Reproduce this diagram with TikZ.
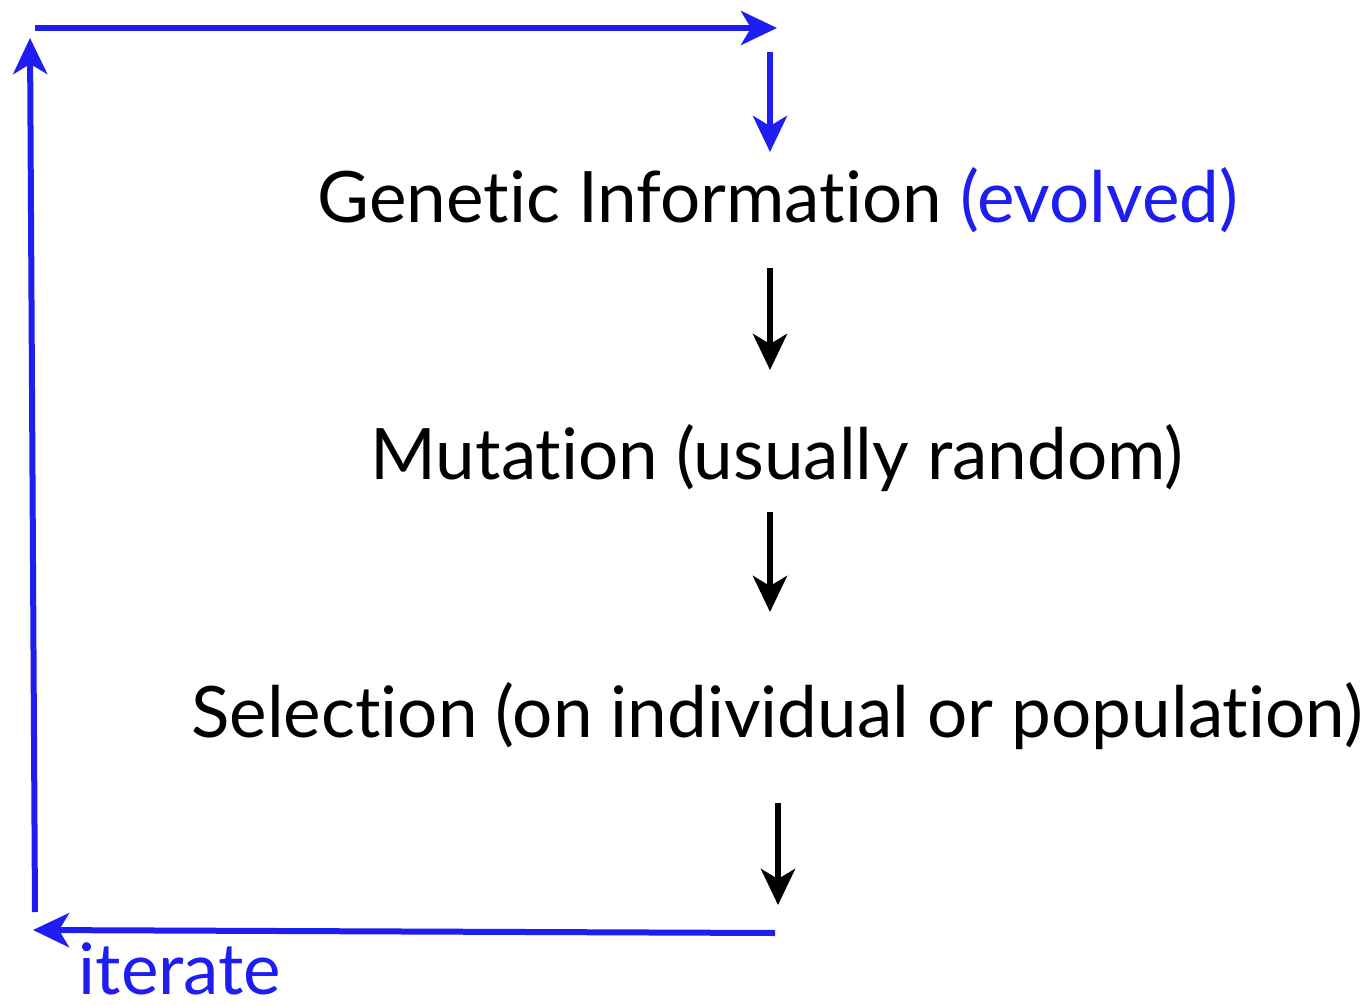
\documentclass[tikz,border=0pt]{standalone}
\usepackage{fontspec}
\setmainfont{Lato}[Ligatures={NoCommon}]
\usetikzlibrary{arrows.meta}
\definecolor{loopblue}{RGB}{30,30,240}
\begin{document}
\begin{tikzpicture}[x=1pt,y=-1pt,
  lbl/.style={anchor=base,inner sep=0pt,font=\fontsize{71}{78}\selectfont},
  flow/.style={line width=6pt,-{Stealth[length=36pt,width=34pt,inset=10pt]}},
  loop/.style={flow,draw=loopblue,color=loopblue}]
\useasboundingbox (0,0) rectangle (1370,1006);
% stages of the cycle
\node[lbl] (gen) at (778,222) {Genetic Information \textcolor{loopblue}{(evolved)}};
\node[lbl] (mut) at (777,479) {Mutation (usually random)};
\node[lbl] (sel) at (777,737) {Selection (on individual or population)};
\node[lbl,text=loopblue] (iter) at (180,994) {iterate};
% ends of the vertical arrows
\coordinate (genin) at (770,52);
\coordinate (gentop) at (770,152);
\coordinate (genout) at (770,268);
\coordinate (mutin) at (770,370);
\coordinate (mutout) at (770,512);
\coordinate (selin) at (770,612);
\coordinate (selout) at (778,803);
\coordinate (done) at (778,905);
% corners of the feedback loop
\coordinate (tl) at (35,28);
\coordinate (tr) at (777,28);
\coordinate (bl) at (33,930);
\coordinate (br) at (775,933);
\coordinate (up0) at (35,912);
\coordinate (up1) at (30,38);
% main flow
\draw[loop] (genin) -- (gentop);
\draw[flow] (genout) -- (mutin);
\draw[flow] (mutout) -- (selin);
\draw[flow] (selout) -- (done);
% feedback loop
\draw[loop] (br) -- (bl);
\draw[loop] (up0) -- (up1);
\draw[loop] (tl) -- (tr);
\end{tikzpicture}
\end{document}
